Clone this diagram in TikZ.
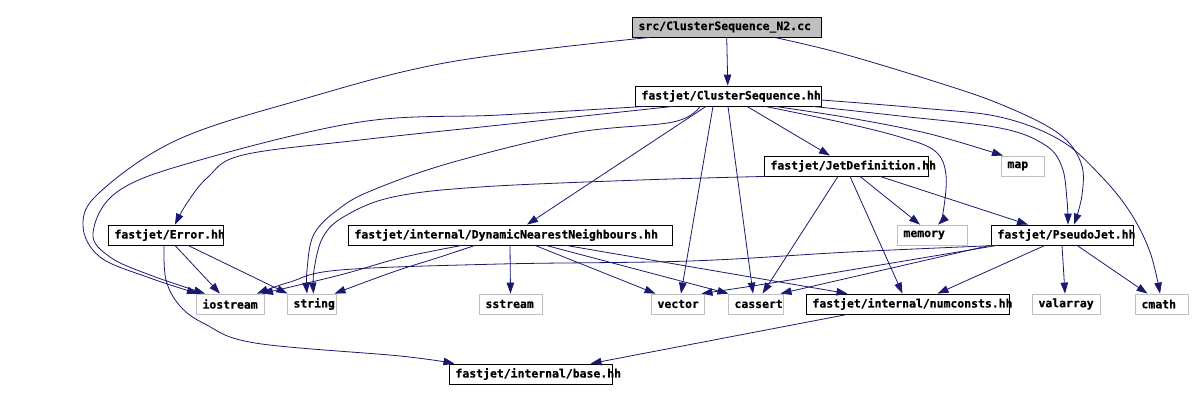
\documentclass[tikz,border=0pt]{standalone}
\usepackage{fontspec}
\setmonofont{DejaVu Sans Mono}[BoldFeatures={FakeBold=0.6}]
\usetikzlibrary{arrows.meta}
\definecolor{edgec}{HTML}{191970}
\definecolor{greyc}{HTML}{BFBFBF}
\newcommand{\ntxt}[2]{\makebox[#1bp][l]{\hspace{6.5bp}#2}}
\tikzset{
  anybox/.style={inner sep=0pt, minimum height=20bp, fill=white,
    font=\fontsize{11.5}{13}\selectfont\ttfamily\bfseries, text=black},
  filebox/.style={anybox, draw=black, line width=0.8bp},
  sysbox/.style={anybox, draw=greyc, line width=0.8bp},
  rootbox/.style={anybox, draw=black, fill=greyc, line width=0.8bp},
  dep/.style={draw=edgec, line width=0.8bp, -{Triangle[length=11bp,width=7.5bp]}},
}
\begin{document}
\begin{tikzpicture}[x=1bp,y=-1bp]
\useasboundingbox (0,0) rectangle (1201,401);
% nodes
\node[rootbox] (cc) at (726.5,27) {\ntxt{189}{src/ClusterSequence\_N2.cc}};
\node[filebox] (cs) at (728,96) {\ntxt{186}{fastjet/ClusterSequence.hh}};
\node[filebox] (jd) at (846,166) {\ntxt{164}{fastjet/JetDefinition.hh}};
\node[sysbox] (map) at (1022.5,166) {\ntxt{43}{map}};
\node[filebox] (err) at (165.5,235) {\ntxt{115}{fastjet/Error.hh}};
\node[filebox] (dnn) at (510,235) {\ntxt{324}{fastjet/internal/DynamicNearestNeighbours.hh}};
\node[sysbox] (memory) at (932,235) {\ntxt{70}{memory}};
\node[filebox] (pj) at (1062,235) {\ntxt{142}{fastjet/PseudoJet.hh}};
\node[sysbox] (iostream) at (230,304) {\ntxt{68}{iostream}};
\node[sysbox] (string) at (311.5,304) {\ntxt{49}{string}};
\node[sysbox] (sstream) at (510.5,304) {\ntxt{63}{sstream}};
\node[sysbox] (vector) at (677.5,304) {\ntxt{53}{vector}};
\node[sysbox] (cassert) at (755.5,304) {\ntxt{55}{cassert}};
\node[filebox] (numc) at (907.5,304) {\ntxt{203}{fastjet/internal/numconsts.hh}};
\node[sysbox] (valarray) at (1066,304) {\ntxt{68}{valarray}};
\node[sysbox] (cmath) at (1161.5,304) {\ntxt{53}{cmath}};
\node[filebox] (basehh) at (530.5,374) {\ntxt{163}{fastjet/internal/base.hh}};
% edges from cc
\draw[dep] (cc) -- (cs);
\draw[dep] plot[smooth, tension=0.6] coordinates {([xshift=-76.5bp]cc.south) (450,62) (300,100) (177,140) (100,192) (83,225) (100,257) (150,278) ([xshift=-32bp]iostream.north)};
\draw[dep] plot[smooth, tension=0.6] coordinates {([xshift=48bp]cc.south) (840,53) (930,80) (1000,104) (1058,133) (1081,163) (1082,195) ([xshift=12bp]pj.north)};
% edges from cs
\draw[dep] plot[smooth, tension=0.6] coordinates {([xshift=-83bp]cs.south) (500,115) (360,122) (193,162) (117,192) (93,233) (110,257) (150,275) ([xshift=-25bp]iostream.north)};
\draw[dep] plot[smooth, tension=0.6] coordinates {([xshift=-55bp]cs.south) (500,125) (360,140) (243,155) (208,177) (187,203) ([xshift=9.5bp]err.north)};
\draw[dep] plot[smooth, tension=0.6] coordinates {([xshift=-28bp]cs.south) (673,122) (573,133) (450,163) (373,190) (340,208) (314,234) (307,270) ([xshift=-4.5bp]string.north)};
\draw[dep] ([xshift=-22bp]cs.south) -- ([xshift=17bp]dnn.north);
\draw[dep] ([xshift=-15bp]cs.south) -- ([xshift=3.5bp]vector.north);
\draw[dep] ([xshift=0bp]cs.south) -- ([xshift=-2.5bp]cassert.north);
\draw[dep] ([xshift=19bp]cs.south) -- ([xshift=-16bp]jd.north);
\draw[dep] plot[smooth, tension=0.6] coordinates {([xshift=47bp]cs.south) (850,118) (930,134) ([xshift=-19.5bp]map.north)};
\draw[dep] plot[smooth, tension=0.6] coordinates {([xshift=37bp]cs.south) (840,122) (900,137) (935,151) (946,175) (943,213) ([xshift=6bp]memory.north)};
\draw[dep] plot[smooth, tension=0.6] coordinates {([xshift=85bp]cs.south) (900,116) (1000,128) (1045,145) (1062,167) (1067,200) ([xshift=6bp]pj.north)};
\draw[dep] plot[smooth, tension=0.6] coordinates {([yshift=-4bp]cs.east) (920,108) (1000,117) (1060,140) (1100,175) (1130,212) (1150,252) ([xshift=-1.5bp]cmath.north)};
% edges from jd
\draw[dep] plot[smooth, tension=0.6] coordinates {([xshift=-80bp]jd.south) (640,180) (480,187) (393,197) (345,216) (323,237) (314,270) ([xshift=2bp]string.north)};
\draw[dep] ([xshift=-8bp]jd.south) -- ([xshift=7bp]cassert.north);
\draw[dep] ([xshift=4bp]jd.south) -- ([xshift=-5bp]numc.north);
\draw[dep] ([xshift=14bp]jd.south) -- ([xshift=-12bp]memory.north);
\draw[dep] ([xshift=34bp]jd.south) -- ([xshift=-34bp]pj.north);
% edges from err
\draw[dep] ([xshift=9.5bp]err.south) -- ([xshift=-10bp]iostream.north);
\draw[dep] ([xshift=22.5bp]err.south) -- ([xshift=-24bp]string.north);
\draw[dep] plot[smooth, tension=0.6] coordinates {([xshift=-1.5bp]err.south) (166,280) (180,306) (205,324) (255,343) (400,356) ([xshift=-76bp]basehh.north)};
% edges from dnn
\draw[dep] plot[smooth, tension=0.6] coordinates {([xshift=-48bp]dnn.south) (400,258) (340,275) ([xshift=32bp]iostream.north)};
\draw[dep] plot[smooth, tension=0.6] coordinates {([xshift=-35bp]dnn.south) (440,257) (393,272) ([xshift=23bp]string.north)};
\draw[dep] (dnn.south) -- (sstream.north);
\draw[dep] ([xshift=25bp]dnn.south) -- ([xshift=-22bp]vector.north);
\draw[dep] ([xshift=36bp]dnn.south) -- ([xshift=-27bp]cassert.north);
\draw[dep] ([xshift=56bp]dnn.south) -- ([xshift=-60bp]numc.north);
% edges from pj
\draw[dep] plot[smooth, tension=0.6] coordinates {([xshift=-64bp]pj.south) (850,252) (690,261) (500,264) (340,270) (290,282) ([xshift=27bp]iostream.north)};
\draw[dep] plot[smooth, tension=0.6] coordinates {([xshift=-65bp]pj.south) (790,280) ([xshift=24bp]vector.north)};
\draw[dep] ([xshift=-72bp]pj.south) -- ([xshift=25bp]cassert.north);
\draw[dep] ([xshift=-17bp]pj.south) -- ([xshift=30bp]numc.north);
\draw[dep] ([xshift=0bp]pj.south) -- ([xshift=-1bp]valarray.north);
\draw[dep] ([xshift=15bp]pj.south) -- ([xshift=-14bp]cmath.north);
% edges from numconsts
\draw[dep] ([xshift=-60bp]numc.south) -- ([xshift=60bp]basehh.north);
\end{tikzpicture}
\end{document}
